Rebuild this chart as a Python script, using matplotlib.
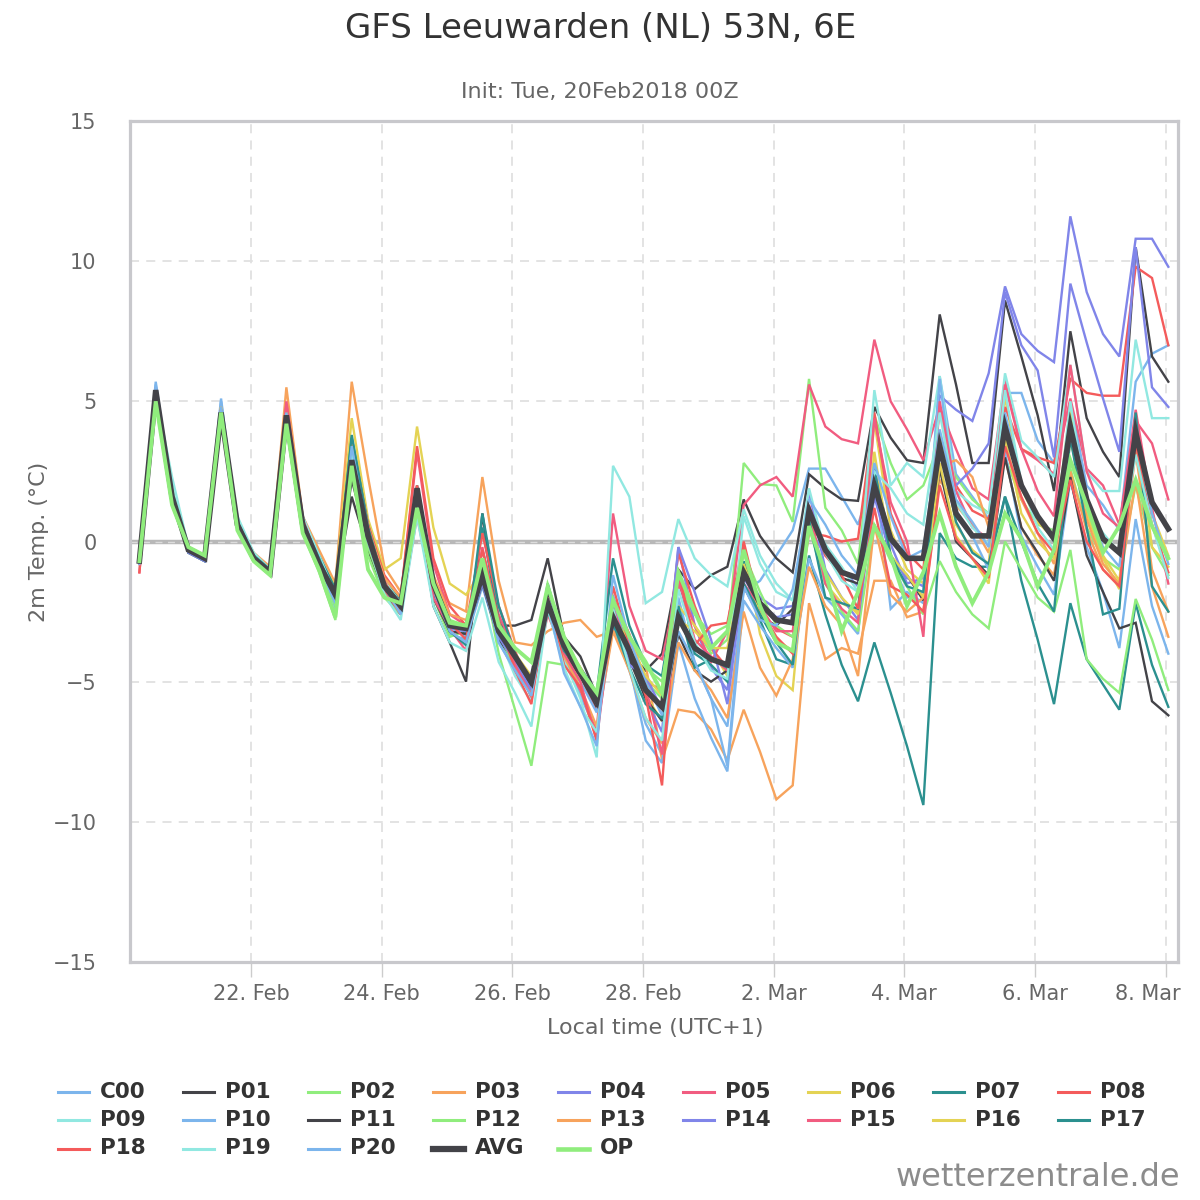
import numpy as np
import matplotlib
matplotlib.use("Agg")
import matplotlib.pyplot as plt
from matplotlib.lines import Line2D

plt.rcParams['font.family'] = ['DejaVu Sans']

# 6-hourly steps, local time (UTC+1), from 20 Feb 07:00 to 8 Mar 01:00
t0 = np.datetime64('2018-02-20T07:00')
times = t0 + np.arange(64) * np.timedelta64(6, 'h')

c00 = [-0.8, 5.7, 1.7, -0.3, -0.6, 5.1, 0.5, -0.6, -1.1, 4.6, 0.4, -0.9, -2.0, 3.3, 0.1, -1.8,
       -2.4, 1.5, -1.8, -3.3, -3.5, -1.6, -3.5, -4.5, -5.5, -2.5, -4.0, -5.5, -6.8, -3.0, -4.6, -6.5,
       -7.6, -2.0, -4.3, -5.6, -6.6, -1.8, -1.4, -0.5, 0.4, 2.6, 2.6, 1.6, 0.6, 2.4, -0.6, -2.0,
       -1.8, 5.9, 2.4, 1.6, 0.8, 5.3, 5.3, 3.6, 2.8, 5.0, 2.0, 1.3, 0.4, 5.7, 6.7, 7.0]
p01 = [-0.7, 5.3, 1.5, -0.4, -0.7, 4.6, 0.8, -0.6, -1.1, 4.4, 0.6, -0.6, -1.8, 1.6, -0.3, -1.9,
       -2.6, 1.5, -2.3, -3.6, -5.0, 1.0, -3.0, -3.0, -2.8, -0.6, -3.4, -4.1, -5.5, -2.4, -4.0, -4.6,
       -4.0, -1.0, -1.7, -1.2, -0.9, 1.5, 0.2, -0.6, -1.1, 2.4, 1.9, 1.5, 1.45, 4.8, 3.7, 2.9,
       2.8, 8.1, 5.6, 2.8, 2.8, 8.6, 6.6, 4.5, 1.8, 7.5, 4.4, 3.2, 2.3, 10.5, 6.6, 5.7]
p02 = [-0.7, 5.2, 1.3, -0.3, -0.5, 4.6, 0.4, -0.7, -1.2, 4.3, 0.3, -1.1, -2.8, 2.8, -0.5, -2.0,
       -2.6, 1.2, -2.0, -3.4, -3.2, -1.0, -4.0, -6.0, -8.0, -4.3, -4.4, -5.0, -6.0, -2.2, -3.8, -5.0,
       -5.6, -1.2, -3.0, -4.0, -3.5, 2.8, 2.05, 2.0, 0.7, 5.8, 1.2, 0.4, -0.8, 4.5, 2.8, 1.5,
       2.0, 3.5, 2.3, 1.5, 1.0, 3.0, 1.5, 0.6, 0.4, 2.6, 0.5, -0.6, -1.0, 2.0, -0.2, -1.2]
p03 = [-0.8, 5.4, 1.7, -0.2, -0.5, 4.7, 0.7, -0.4, -0.9, 5.5, 0.9, -0.3, -1.5, 5.7, 2.3, -0.9,
       -1.8, 2.0, -1.4, -2.2, -2.5, 2.3, -1.4, -3.6, -3.7, -3.2, -2.9, -2.8, -3.4, -3.2, -3.6, -4.4,
       -7.8, -6.0, -6.1, -6.7, -7.8, -6.0, -7.5, -9.2, -8.7, -2.2, -4.2, -3.8, -4.0, -1.4, -1.4, -2.7,
       -2.5, 2.2, 1.3, 0.6, -0.4, 3.0, 0.5, -0.5, -1.2, 2.5, 0.4, -1.0, -1.6, 2.2, -1.6, -3.4]
p04 = [-0.7, 5.5, 1.6, -0.3, -0.6, 4.7, 0.6, -0.5, -1.0, 4.6, 0.7, -0.7, -1.9, 3.0, 0.3, -1.6,
       -2.3, 1.6, -1.8, -3.0, -3.0, -1.4, -3.3, -4.2, -5.2, -2.5, -3.7, -4.7, -5.6, -2.2, -4.0, -5.6,
       -6.8, -0.2, -3.0, -4.5, -5.3, -1.0, -2.0, -2.4, -2.3, 0.5, -0.5, -1.0, -1.6, 2.7, -0.1, -1.5,
       -1.3, 5.2, 4.7, 4.3, 6.0, 9.1, 7.4, 6.8, 6.4, 11.6, 8.9, 7.4, 6.6, 10.8, 10.8, 9.8]
p05 = [-1.1, 5.5, 1.6, -0.3, -0.6, 4.7, 0.6, -0.6, -1.1, 4.9, 0.8, -0.7, -2.2, 3.1, 0.3, -1.3,
       -2.0, 3.2, -0.8, -2.6, -3.0, -0.3, -2.6, -4.0, -5.6, -2.0, -4.3, -5.3, -6.8, 1.0, -2.3, -3.9,
       -4.2, -1.5, -3.0, -4.3, -3.2, 1.3, 2.0, 2.3, 1.6, 5.6, 4.1, 3.65, 3.5, 7.2, 5.0, 4.0,
       2.9, 4.8, 3.3, 1.9, 1.5, 5.8, 3.3, 2.9, 2.4, 5.1, 2.6, 2.0, 0.6, 4.3, 3.5, 1.5]
p06 = [-0.7, 5.4, 1.6, -0.3, -0.6, 4.7, 0.6, -0.6, -1.0, 4.5, 0.8, -0.6, -1.6, 4.4, 0.8, -1.0,
       -0.6, 4.1, 0.5, -1.5, -1.9, -1.0, -3.5, -4.3, -5.3, -2.2, -3.8, -4.9, -5.8, -2.6, -4.1, -5.5,
       -6.4, -2.3, -3.0, -3.8, -4.8, -0.2, -3.3, -4.8, -5.3, 0.9, -1.5, -2.2, -2.5, 4.3, 0.4, -1.0,
       -1.5, 3.9, 0.6, -0.3, -0.8, 5.2, 1.9, 0.7, 0.1, 4.8, 1.0, -0.6, -1.7, 4.4, 1.0, -0.5]
p07 = [-0.8, 5.3, 1.5, -0.4, -0.7, 4.6, 0.6, -0.6, -1.1, 4.6, 0.8, -0.5, -1.7, 3.7, 0.6, -1.4,
       -2.1, 2.0, -1.3, -2.8, -3.3, 0.5, -2.8, -4.2, -5.0, -1.5, -3.6, -4.5, -5.4, -0.6, -3.0, -4.4,
       -4.8, -1.1, -4.0, -4.4, -5.0, -0.7, -2.8, -4.2, -4.4, -0.5, -2.6, -4.4, -5.7, -3.6, -5.4, -7.3,
       -9.4, 0.3, -0.6, -0.9, -0.9, 1.6, -1.4, -3.5, -5.8, -2.2, -4.2, -5.1, -6.0, -2.2, -4.4, -5.9]
p08 = [-1.1, 5.4, 1.6, -0.3, -0.6, 4.8, 0.7, -0.5, -1.0, 4.8, 0.9, -0.6, -1.9, 3.5, 0.6, -1.2,
       -2.0, 3.4, -0.6, -2.3, -3.0, 0.3, -2.3, -3.9, -5.3, -2.1, -3.7, -4.8, -6.0, -2.0, -3.3, -5.0,
       -5.3, -0.4, -2.3, -3.8, -4.5, -0.2, -2.5, -3.1, -3.4, 0.3, 0.2, 0.0, 0.1, 4.6, 1.0, -0.4,
       -1.0, 4.8, 2.0, 1.1, 0.8, 4.8, 3.3, 3.0, 2.8, 5.8, 5.3, 5.2, 5.2, 9.8, 9.4, 7.0]
p09 = [-0.7, 5.3, 2.3, -0.2, -0.5, 4.6, 0.9, -0.4, -1.0, 4.4, 0.9, -0.5, -1.9, 3.1, 0.4, -1.4,
       -2.2, 1.3, -1.7, -3.1, -3.2, -1.3, -3.4, -4.8, -5.7, -2.3, -4.2, -5.6, -7.7, 2.7, 1.6, -2.2,
       -1.8, 0.8, -0.6, -1.2, -1.6, 1.15, -0.5, -1.5, -2.1, 0.9, -0.1, -0.9, -1.8, 5.4, 2.0, 2.8,
       2.3, 5.9, 1.8, 1.3, 1.0, 6.0, 3.6, 3.0, 2.3, 6.3, 2.5, 1.8, 1.8, 7.2, 4.4, 4.4]
p10 = [-0.8, 5.6, 1.6, -0.3, -0.6, 5.0, 0.6, -0.6, -1.1, 4.5, 0.5, -1.0, -2.4, 3.5, 0.1, -1.8,
       -2.5, 1.6, -1.9, -3.0, -3.4, -1.1, -3.6, -4.6, -5.4, -1.6, -4.1, -5.0, -6.1, -1.9, -4.4, -7.1,
       -7.9, -3.6, -5.6, -7.0, -8.2, -2.1, -3.0, -3.8, -4.5, -0.6, -2.0, -2.6, -3.3, 2.6, -2.4, -1.8,
       -2.2, 5.8, 1.1, 0.2, -1.0, 3.2, 0.2, -0.9, -1.9, 2.2, -0.2, -1.8, -3.8, 0.8, -2.3, -4.0]
p11 = [-0.7, 5.4, 1.6, -0.3, -0.6, 4.7, 0.5, -0.7, -1.2, 4.5, 0.5, -0.9, -2.0, 2.2, 0.0, -1.5,
       -2.2, 1.2, -2.0, -3.2, -3.3, -1.5, -3.5, -4.3, -5.2, -1.8, -4.0, -4.8, -5.9, -2.9, -4.2, -5.6,
       -6.4, -3.3, -4.6, -5.0, -4.6, -1.6, -2.7, -3.0, -2.4, 1.2, -0.4, -1.3, -1.5, 1.9, -0.6, -1.2,
       -2.1, 2.6, 0.0, -0.6, -1.2, 3.0, 0.5, -0.4, -1.4, 2.3, -0.5, -1.8, -3.1, -2.9, -5.7, -6.2]
p12 = [-0.7, 5.3, 1.4, -0.2, -0.5, 4.6, 0.5, -0.6, -1.1, 4.4, 0.4, -0.9, -2.3, 2.5, -0.2, -1.8,
       -2.4, 1.4, -1.6, -2.8, -3.0, -0.8, -3.3, -4.5, -5.5, -2.4, -3.5, -4.6, -5.6, -2.2, -3.4, -4.5,
       -5.0, -1.3, -2.6, -3.3, -3.0, -0.4, -1.8, -3.0, -3.4, 0.5, -1.5, -2.5, -3.2, 0.6, -0.7, -1.6,
       -2.6, -0.7, -1.8, -2.6, -3.1, 0.0, -1.0, -2.0, -2.5, -0.3, -4.2, -4.9, -5.4, -2.05, -3.5, -5.3]
p13 = [-0.8, 5.4, 1.6, -0.3, -0.6, 4.8, 0.6, -0.7, -1.2, 4.6, 0.6, -0.8, -1.9, 3.5, 0.5, -1.3,
       -2.0, 1.8, -1.2, -2.6, -2.8, -0.9, -3.0, -4.4, -5.4, -2.4, -4.1, -5.2, -6.6, -3.2, -4.6, -6.3,
       -7.2, -3.6, -4.6, -5.3, -6.3, -2.5, -4.5, -5.5, -4.2, -0.9, -2.3, -3.0, -4.8, 0.6, -1.9, -2.5,
       -2.0, 2.7, 2.9, 2.3, 0.5, 3.5, 1.5, 0.3, -0.8, 3.8, 0.8, -0.8, -1.5, 3.2, -1.0, -2.5]
p14 = [-0.7, 5.4, 1.5, -0.4, -0.7, 4.6, 0.5, -0.6, -1.1, 4.5, 0.5, -0.9, -2.0, 2.6, 0.0, -1.7,
       -2.4, 1.7, -1.7, -3.1, -3.2, -1.5, -3.4, -4.3, -5.3, -2.0, -3.5, -4.6, -5.8, -2.3, -4.4, -4.8,
       -6.0, -0.2, -1.8, -3.5, -5.8, -1.3, -2.2, -2.7, -2.6, 1.8, -1.0, -2.0, -2.8, 1.6, -0.5, -1.3,
       -1.6, 3.1, 2.0, 2.6, 3.5, 8.9, 7.0, 6.1, 3.0, 9.2, 7.1, 5.1, 3.2, 10.5, 5.5, 4.8]
p15 = [-0.8, 5.4, 1.6, -0.3, -0.6, 4.7, 0.6, -0.6, -1.1, 5.0, 0.8, -0.7, -2.1, 3.3, 0.1, -1.7,
       -2.6, 0.9, -2.0, -3.1, -3.9, -0.2, -3.0, -4.4, -5.5, -2.6, -4.0, -5.0, -7.1, -2.4, -3.9, -5.2,
       -7.6, -1.3, -3.5, -4.1, -4.6, -1.5, -2.3, -3.2, -3.2, 1.2, -1.5, -2.4, -2.9, 4.4, 1.4, 0.0,
       -3.4, 5.0, 1.8, 0.5, 0.1, 5.6, 3.3, 1.8, 0.9, 6.3, 2.5, 1.0, 0.5, 4.7, 1.2, -1.5]
p16 = [-0.7, 5.4, 1.6, -0.3, -0.6, 4.8, 0.7, -0.6, -1.1, 4.6, 0.7, -0.8, -1.8, 2.8, 0.2, -1.6,
       -2.2, 1.5, -1.4, -2.9, -3.0, -1.0, -3.0, -4.0, -4.8, -2.4, -3.5, -4.5, -5.6, -2.8, -3.5, -4.8,
       -5.5, -2.8, -3.2, -3.8, -3.8, -0.8, -2.5, -3.5, -3.9, 0.6, -1.1, -2.0, -2.6, 3.2, -0.5, -1.2,
       -2.0, 2.8, 0.2, -0.6, -1.5, 3.7, 1.0, 0.0, -0.6, 3.6, 1.2, -0.5, -1.4, 4.1, -0.2, -0.9]
p17 = [-0.7, 5.4, 1.6, -0.3, -0.6, 4.7, 0.7, -0.5, -1.0, 4.5, 0.7, -0.6, -2.0, 3.8, 0.5, -1.5,
       -2.4, 1.7, -1.6, -3.2, -3.7, 1.0, -2.3, -4.0, -5.0, -2.5, -3.9, -4.6, -5.6, -2.9, -4.5, -5.8,
       -6.3, -2.3, -4.5, -4.2, -4.5, -1.5, -2.6, -3.6, -4.4, 0.8, -2.0, -2.2, -2.4, 2.6, -0.5, -1.6,
       -1.8, 3.6, 0.7, -0.4, -0.8, 1.6, 0.0, -1.5, -2.5, 3.7, 0.5, -2.6, -2.4, 4.6, -1.6, -2.5]
p18 = [-0.8, 5.4, 1.6, -0.3, -0.6, 4.7, 0.6, -0.6, -1.1, 4.6, 0.6, -0.8, -2.0, 3.0, 0.3, -1.4,
       -2.6, 2.0, -1.7, -2.9, -3.5, -0.3, -2.8, -4.6, -5.8, -2.0, -4.4, -5.2, -7.1, -1.6, -3.7, -5.5,
       -8.7, -1.0, -3.7, -3.0, -2.9, 0.0, -2.4, -3.4, -4.0, 1.3, -0.5, -1.2, -2.4, 1.2, -1.6, -1.9,
       -2.5, 2.0, 0.1, -0.6, -1.3, 3.4, 1.6, 0.3, -0.4, 2.2, 0.0, -1.0, -1.6, 3.5, 0.6, -1.1]
p19 = [-0.7, 5.2, 1.9, -0.2, -0.6, 4.5, 0.7, -0.6, -1.2, 4.4, 0.4, -1.0, -2.6, 3.2, 0.0, -1.9,
       -2.8, 0.9, -2.3, -3.6, -3.9, -2.0, -4.3, -5.4, -6.6, -2.4, -4.5, -5.9, -6.8, -2.4, -4.5, -6.3,
       -7.1, -1.7, -3.6, -4.6, -4.9, 0.9, -0.8, -1.8, -2.1, 1.9, -0.4, -1.4, -1.8, 2.5, 1.9, 1.0,
       0.6, 4.6, 1.4, 0.5, -0.1, 5.4, 2.1, 0.5, -0.3, 5.0, 1.2, 0.3, -0.4, 3.1, 0.6, -1.3]
p20 = [-0.8, 5.5, 1.6, -0.3, -0.6, 4.8, 0.6, -0.6, -1.1, 4.6, 0.6, -0.9, -2.2, 3.4, 0.2, -1.6,
       -2.6, 1.4, -1.6, -3.2, -3.6, -1.3, -3.6, -4.6, -5.5, -2.2, -4.7, -5.9, -7.3, -1.2, -3.5, -5.0,
       -6.2, -3.2, -4.3, -5.6, -8.0, -1.6, -2.8, -3.0, -1.7, 1.5, 0.6, -0.5, -1.2, 2.8, 0.9, -0.6,
       -0.3, 4.0, 1.5, 0.7, -0.2, 4.6, 2.0, 0.9, 0.0, 3.9, 1.3, -0.2, -0.9, 3.9, 1.0, -0.8]
avg = [-0.7, 5.4, 1.6, -0.3, -0.6, 4.6, 0.6, -0.6, -1.1, 4.5, 0.6, -0.8, -1.9, 2.9, 0.2, -1.6,
       -2.3, 1.9, -1.5, -3.0, -3.1, -1.2, -3.2, -4.1, -5.0, -2.2, -3.7, -4.7, -5.7, -2.7, -3.9, -5.3,
       -5.9, -2.7, -3.8, -4.2, -4.4, -1.1, -2.2, -2.8, -2.9, 1.1, -0.3, -1.1, -1.3, 2.0, 0.1, -0.6,
       -0.6, 3.4, 1.0, 0.2, 0.2, 4.1, 2.0, 0.9, 0.1, 4.1, 1.5, 0.1, -0.4, 3.9, 1.4, 0.45]
op = [-0.7, 5.0, 1.3, -0.2, -0.5, 4.6, 0.4, -0.7, -1.2, 4.2, 0.3, -1.0, -2.7, 2.7, -1.0, -2.0,
      -2.2, 1.2, -1.5, -2.9, -3.0, -0.6, -3.0, -3.8, -4.3, -1.6, -3.4, -4.6, -5.4, -2.1, -3.4, -4.3,
      -5.4, -1.1, -2.5, -3.8, -3.2, -0.3, -2.3, -3.6, -3.9, 0.55, -1.1, -3.2, -1.8, 0.55, -0.5, -2.3,
      -1.1, 1.0, -0.9, -2.2, -1.1, 1.0, 0.1, -1.6, -0.3, 2.9, 1.3, -0.4, 0.55, 2.2, 0.55, -0.6]

members = [c00, p01, p02, p03, p04, p05, p06, p07, p08, p09, p10,
           p11, p12, p13, p14, p15, p16, p17, p18, p19, p20]
names = ['C00'] + ['P%02d' % k for k in range(1, 21)] + ['AVG', 'OP']

tick_days = np.arange(np.datetime64('2018-02-22'), np.datetime64('2018-03-09'), np.timedelta64(2, 'D'))
tick_labels = ['22. Feb', '24. Feb', '26. Feb', '28. Feb', '2. Mar', '4. Mar', '6. Mar', '8. Mar']

palette = ['#7cb5ec', '#434348', '#90ed7d', '#f7a35c', '#8085e9',
           '#f15c80', '#e4d354', '#2b908f', '#f45b5b', '#91e8e1']
colors = [palette[k % 10] for k in range(21)] + ['#434348', '#90ed7d']
widths = [1.7] * 21 + [4.0, 2.8]

W, H = 1200, 1200
fig = plt.figure(figsize=(12, 12), dpi=100)
ax = fig.add_axes([130 / W, 1 - 962 / H, (1178 - 130) / W, (962 - 121) / H])

for s, c, lw in zip(members + [avg, op], colors, widths):
    ax.plot(times, s, color=c, lw=lw, zorder=3, solid_joinstyle='miter')

ax.axhline(0, color='#b8b8b8', lw=3.2, zorder=2)
ax.axhline(0, color='#dcdcdc', lw=1.0, ls=(0, (5, 4)), zorder=2.1)

ax.set_xlim(np.datetime64('2018-02-20T03:33'), np.datetime64('2018-03-08T04:33'))
ax.set_ylim(-15, 15)
ax.set_yticks(range(-15, 16, 5))
ax.set_xticks(tick_days)
ax.set_xticklabels(tick_labels)
ax.grid(True, color='#e0e0e0', lw=1.3, ls=(0, (5, 4)), zorder=1)
ax.set_axisbelow(True)

for sp in ax.spines.values():
    sp.set_color('#c8c8cc')
    sp.set_linewidth(2.3)

ax.tick_params(axis='x', length=11, width=1, color='#cccccc', pad=5, labelsize=15, labelcolor='#666666')
ax.tick_params(axis='y', length=0, pad=24, labelsize=15, labelcolor='#666666')

last = ax.get_xticklabels()[-1]
last.set_ha('right')
last.set_transform(last.get_transform() + matplotlib.transforms.ScaledTranslation(0.15, 0, fig.dpi_scale_trans))

ax.set_xlabel('Local time (UTC+1)', fontsize=16, color='#666666')
ax.xaxis.set_label_coords(0.501, -0.066)
ax.set_ylabel('2m Temp. (°C)', fontsize=16, color='#666666')
ax.yaxis.set_label_coords(-0.077, 0.5)

fig.text(601 / W, 1 - 28 / H, 'GFS Leeuwarden (NL) 53N, 6E', ha='center', va='center',
         fontsize=24.5, color='#333333')
fig.text(600 / W, 1 - 92 / H, 'Init: Tue, 20Feb2018 00Z', ha='center', va='center',
         fontsize=16, color='#666666')

# legend laid out row by row like the original
for k, (name, c, lw) in enumerate(zip(names, colors, widths)):
    row, col = divmod(k, 9)
    x0 = 58 + col * 125
    y = 1 - (1091.5 + row * 28.5) / H
    fig.add_artist(Line2D([x0 / W, (x0 + 31) / W], [y, y], transform=fig.transFigure,
                          color=c, lw=max(lw, 2.2) if k < 21 else lw + 0.5))
    fig.text((x0 + 42) / W, y, name, ha='left', va='center', fontsize=15.5,
             fontweight='bold', color='#333333')

fig.text(1180 / W, 1 - 1178 / H, 'wetterzentrale.de', ha='right', va='center',
         fontsize=23, color='#8c8c8c')

fig.savefig('out.png', dpi=100)
